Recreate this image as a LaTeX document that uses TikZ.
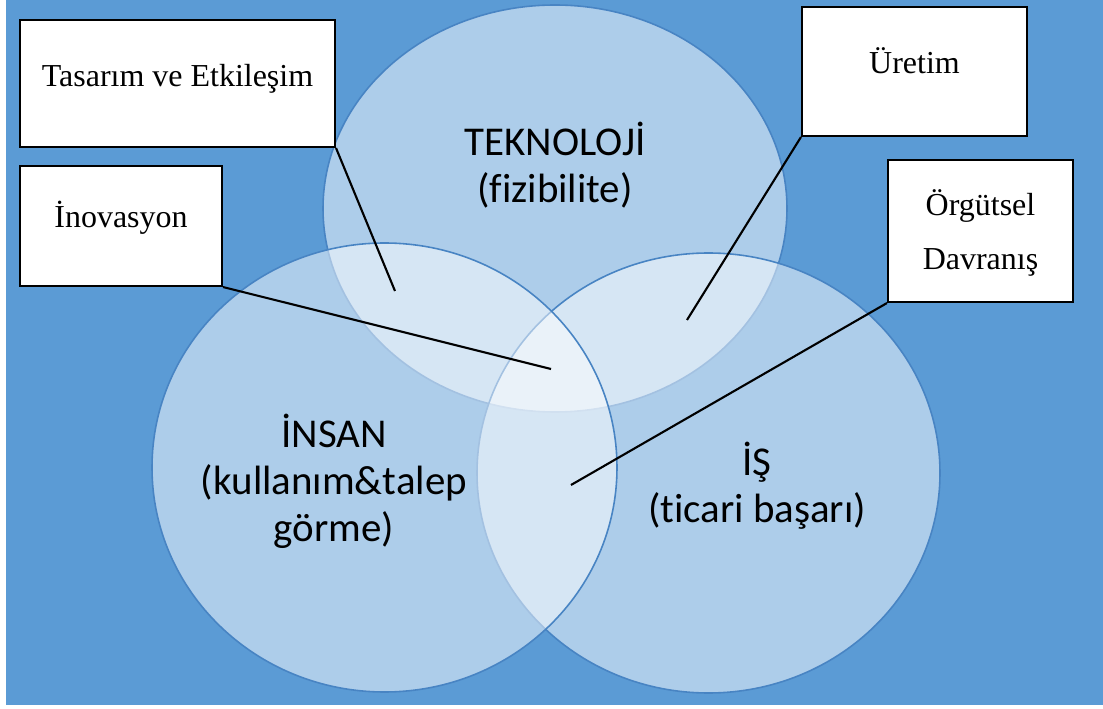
\documentclass[tikz,border=0pt]{standalone}
\usepackage{fontspec}
\setmainfont{Liberation Serif}
\newfontfamily\calibri[Ligatures=NoCommon]{Carlito}
\usetikzlibrary{positioning}
\definecolor{bgblue}{RGB}{91,155,213}
\definecolor{edgeblue}{RGB}{72,132,195}

\begin{document}
\begin{tikzpicture}[x=0.02cm, y=-0.02cm,
		box/.style={rectangle, draw=black, line width=1.2pt, fill=white, inner sep=0pt},
		boxtext/.style={font=\fontsize{18.2}{31.3}\selectfont, align=center, inner sep=0pt, anchor=base},
		venn/.style={fill=white, fill opacity=0.5, draw=edgeblue, line width=0.9pt},
		venntext/.style={font=\calibri\fontsize{23.3}{26.8}\selectfont, align=center, inner sep=0pt, anchor=base},
		pointer/.style={black, line width=1.2pt}
	]
	\useasboundingbox (0,0) rectangle (1103,709);
	\fill[bgblue] (6,0) rectangle (1103,705);
	% the three sets
	\draw[venn] (555,208.5) ellipse [x radius=232, y radius=203.5];
	\draw[venn] (708.5,473) ellipse [x radius=231.5, y radius=220];
	\draw[venn] (384.5,467.5) ellipse [x radius=232.5, y radius=224.5];
	\node[venntext] (teknoloji) at (555,203) {TEKNOLOJİ\\(fizibilite)};
	\node[venntext] (insan) at (334,542) {İNSAN\\(kullanım\&talep\\görme)};
	\node[venntext] (is) at (757,523) {İŞ\\(ticari başarı)};
	% callout boxes
	\node[box, minimum width=6.3cm, minimum height=2.54cm] (tasarimbox) at (177.5,83.5) {};
	\node[box, minimum width=4.04cm, minimum height=2.4cm] (inovasyonbox) at (121,226) {};
	\node[box, minimum width=4.5cm, minimum height=2.58cm] (uretimbox) at (914.5,71.5) {};
	\node[box, minimum width=3.7cm, minimum height=2.84cm] (orgutselbox) at (980.5,231) {};
	\node[boxtext] (tasarim) at (177.5,87) {Tasarım ve Etkileşim};
	\node[boxtext] (inovasyon) at (121,228) {İnovasyon};
	\node[boxtext] (uretim) at (914.5,74) {Üretim};
	\node[boxtext] (orgutsel) at (980.5,270) {Örgütsel\\Davranış};
	% pointers into the overlaps
	\coordinate (tasarimend) at (395,291);
	\coordinate (inovasyonend) at (551,369);
	\coordinate (uretimend) at (687,320);
	\coordinate (orgutselend) at (571,485);
	\draw[pointer] (tasarimbox.south east) -- (tasarimend);
	\draw[pointer] (inovasyonbox.south east) -- (inovasyonend);
	\draw[pointer] (uretimbox.south west) -- (uretimend);
	\draw[pointer] (orgutselbox.south west) -- (orgutselend);
\end{tikzpicture}
\end{document}
